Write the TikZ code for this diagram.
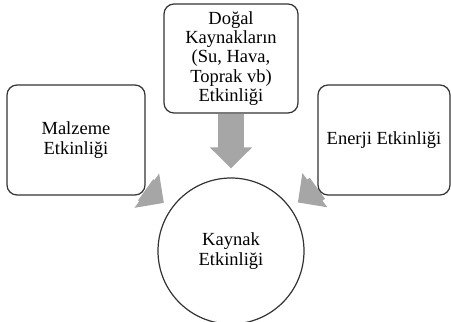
\documentclass[tikz,border=0pt]{standalone}
\usepackage{fontspec}
\setmainfont{Liberation Serif}
\usetikzlibrary{positioning,arrows.meta,backgrounds}
\definecolor{boxline}{HTML}{333333}
\definecolor{flowgray}{HTML}{A6A6A6}
\tikzset{
effect/.style={rectangle, rounded corners=10pt, draw=boxline, line width=1.2pt, fill=white,
               align=center, inner sep=2pt,
               font=\fontsize{18.5}{19.3}\selectfont},
hub/.style={circle, draw=boxline, line width=1.2pt, fill=white, minimum size=146pt,
            align=center, font=\fontsize{18.5}{19.3}\selectfont},
flow/.style={draw=flowgray, line width=26pt, shorten >=9pt},
>={Triangle[width=41pt,length=21pt]},
}

\begin{document}
\begin{tikzpicture}[x=1pt, y=1pt]

    \useasboundingbox (0,0) rectangle (451,-322);

    \node[effect, minimum width=134pt, minimum height=109pt] (dogal) at(231, -58.5)  {Doğal\\Kaynakların\\(Su, Hava,\\Toprak vb)\\Etkinliği};
    \node[effect, minimum width=138pt, minimum height=110pt] (malzeme) at(76, -140)  {Malzeme\\Etkinliği};
    \node[effect, minimum width=132pt, minimum height=110pt] (enerji) at(384, -140)  {Enerji Etkinliği};

    \node[hub] (kaynak) at(231, -251)  {Kaynak\\Etkinliği};

    \begin{scope}[on background layer]
    \draw[->, flow] (dogal)  to (kaynak) ;
    \draw[->, flow] (malzeme)  to (kaynak) ;
    \draw[->, flow] (enerji)  to (kaynak) ;
    \end{scope}

\end{tikzpicture}
\end{document}
